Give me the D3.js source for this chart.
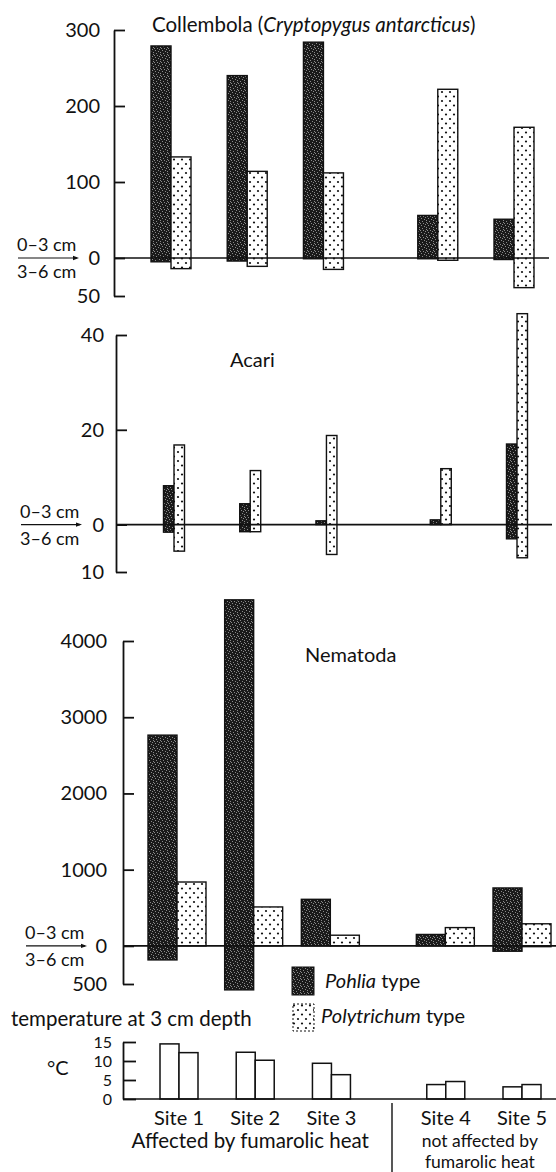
<!DOCTYPE html>
<html><head><meta charset="utf-8">
<script src="https://cdn.jsdelivr.net/npm/d3@7"></script>
<style>
body{margin:0;background:#fff}
svg{display:block}
text{font-family:Lato,"Open Sans",sans-serif;fill:#111}
</style>
</head><body>
<svg id="c" width="556" height="1172"></svg>
<script>
// ---------- data ----------
const sites = ["Site 1","Site 2","Site 3","Site 4","Site 5"];
const siteGroup = [0,0,0,1,1];            // 0 = affected by fumarolic heat, 1 = not affected
const groupLabels = ["Affected by fumarolic heat", ["not affected by","fumarolic heat"]];
const depthLabels = ["0–3 cm","3–6 cm"];
const mossTypes = ["Pohlia","Polytrichum"];

// Collembola (Cryptopygus antarcticus)
const collTicks = [300,200,100,0,-50];
const collPohlia03 = [279,240,284,56,51];
const collPohlia36 = [5,4,1,1,2];
const collPoly03   = [133,114,112,222,172];
const collPoly36   = [14,11,15,3,39];

// Acari
const acariTicks = [40,20,0,-10];
const acariPohlia03 = [8.2,4.4,0.8,1.0,17];
const acariPohlia36 = [1.6,1.5,0,0,3];
const acariPoly03   = [16.8,11.4,18.8,11.8,44.5];
const acariPoly36   = [5.6,1.5,6.3,0,7];

// Nematoda
const nemaTicks = [4000,3000,2000,1000,0,-500];
const nemaPohlia03 = [2765,4540,611,150,760];
const nemaPohlia36 = [184,577,0,0,70];
const nemaPoly03   = [838,511,140,240,290];
const nemaPoly36   = [0,0,0,0,10];

// temperature at 3 cm depth (°C)
const tempTicks = [15,10,5,0];
const tempPohlia = [14.5,12.3,9.4,3.8,3.2];
const tempPoly   = [12.2,10.2,6.4,4.6,3.8];

// ---------- drawing ----------
const FS = 20;
const svg = d3.select("#c");
const defs = svg.append("defs");

// dark stipple pattern
const pd = defs.append("pattern").attr("id","dark").attr("patternUnits","userSpaceOnUse")
  .attr("width",7).attr("height",7);
pd.append("rect").attr("width",7).attr("height",7).attr("fill","#1a1a1a");
[[1,1],[4,2],[2,4],[6,5],[5,0],[0,6],[3,6],[6,3]].forEach(([a,b])=>
  pd.append("rect").attr("x",a).attr("y",b).attr("width",1).attr("height",1).attr("fill","#8a8a8a"));
// dotted pattern
const pp = defs.append("pattern").attr("id","dots").attr("patternUnits","userSpaceOnUse")
  .attr("width",8).attr("height",9);
pp.append("rect").attr("width",8).attr("height",9).attr("fill","#fff");
pp.append("circle").attr("cx",2).attr("cy",2).attr("r",1.1).attr("fill","#111");
pp.append("circle").attr("cx",6).attr("cy",6.5).attr("r",1.1).attr("fill","#111");

const sitePos = sites.map((s,i)=> i + siteGroup[i]*0.5);

function depthLegend(x, y0){
  svg.append("text").attr("x",x).attr("y",y0-7).attr("font-size",18).text(depthLabels[0]);
  svg.append("line").attr("x1",x+1).attr("x2",x+60).attr("y1",y0).attr("y2",y0)
    .attr("stroke","#111").attr("stroke-width",1.2);
  svg.append("path").attr("d",`M${x+62},${y0} l-6,-2.2 v4.4z`).attr("fill","#111");
  svg.append("text").attr("x",x).attr("y",y0+20).attr("font-size",18).text(depthLabels[1]);
}

function panel(o){
  const y = d3.scaleLinear().domain(o.domain).range(o.range);
  const x = d3.scaleLinear().domain([0,4.5]).range(o.xr);
  const g = svg.append("g");
  const ax = d3.axisLeft(y).tickValues(o.ticks).tickSizeInner(-11).tickSizeOuter(0)
    .tickPadding(o.pad).tickFormat(d=>Math.abs(d));
  const ag = g.append("g").attr("transform",`translate(${o.axisX},0)`).call(ax);
  ag.selectAll("path,line").attr("stroke","#111").attr("stroke-width",1.8);
  ag.selectAll("text").attr("font-size",FS).attr("font-family","Lato, sans-serif").attr("fill","#111");
  const series = [
    {up:o.p03, dn:o.p36, fill:"url(#dark)", off:-o.bw},
    {up:o.q03, dn:o.q36, fill:"url(#dots)", off:0}
  ];
  series.forEach(s=>{
    g.selectAll(null).data(sites).enter().append("rect")
      .attr("x",(d,i)=>x(sitePos[i])+s.off)
      .attr("width",o.bw)
      .attr("y",(d,i)=>y(s.up[i]))
      .attr("height",(d,i)=>y(-s.dn[i])-y(s.up[i]))
      .attr("fill",s.fill).attr("stroke","#111").attr("stroke-width",1.4);
  });
  g.append("line").attr("x1",o.axisX).attr("x2",o.lineEnd).attr("y1",y(0)).attr("y2",y(0))
    .attr("stroke","#111").attr("stroke-width",1.6);
  depthLegend(o.legX, y(0));
  return {x,y};
}

// Collembola
panel({domain:[-50,300], range:[296,30], xr:[171,514], axisX:114, pad:14, ticks:collTicks, bw:20,
  p03:collPohlia03, p36:collPohlia36, q03:collPoly03, q36:collPoly36, lineEnd:549, legX:17});
const t1 = svg.append("text").attr("x",152).attr("y",32).attr("font-size",20.5);
t1.append("tspan").text("Collembola (");
t1.append("tspan").attr("font-style","italic").text("Cryptopygus antarcticus");
t1.append("tspan").text(")");

// Acari
panel({domain:[-10,40], range:[572,335], xr:[174,517], axisX:116, pad:12, ticks:acariTicks, bw:10.5,
  p03:acariPohlia03, p36:acariPohlia36, q03:acariPoly03, q36:acariPoly36, lineEnd:552, legX:20});
svg.append("text").attr("x",230).attr("y",367).attr("font-size",20).text("Acari");

// Nematoda
panel({domain:[-500,4000], range:[984,641], xr:[177,522], axisX:123, pad:16, ticks:nemaTicks, bw:29,
  p03:nemaPohlia03, p36:nemaPohlia36, q03:nemaPoly03, q36:nemaPoly36, lineEnd:556, legX:25});
svg.append("text").attr("x",305).attr("y",662).attr("font-size",20).text("Nematoda");

// legend
svg.append("rect").attr("x",292).attr("y",967).attr("width",22).attr("height",28)
  .attr("fill","url(#dark)").attr("stroke","#111");
const l1 = svg.append("text").attr("x",325).attr("y",988).attr("font-size",20);
l1.append("tspan").attr("font-style","italic").text(mossTypes[0]);
l1.append("tspan").text(" type");
svg.append("rect").attr("x",293).attr("y",1004).attr("width",21).attr("height",27)
  .attr("fill","url(#dots)").attr("stroke","#111").attr("stroke-dasharray","2,2");
const l2 = svg.append("text").attr("x",321).attr("y",1023).attr("font-size",20);
l2.append("tspan").attr("font-style","italic").text(mossTypes[1]);
l2.append("tspan").text(" type");

// temperature panel
svg.append("text").attr("x",11).attr("y",1026).attr("font-size",20.5).text("temperature at 3 cm depth");
svg.append("text").attr("x",47).attr("y",1075).attr("font-size",20).text("°C");
const ty = d3.scaleLinear().domain([0,15]).range([1099,1042]);
const tx = d3.scaleLinear().domain([0,4.5]).range([179,522]);
const tax = d3.axisLeft(ty).tickValues(tempTicks).tickSizeInner(-13).tickSizeOuter(0).tickPadding(11);
const tag = svg.append("g").attr("transform","translate(123,0)").call(tax);
tag.selectAll("path,line").attr("stroke","#111").attr("stroke-width",1.8);
tag.selectAll("text").attr("font-size",16).attr("font-family","Lato, sans-serif").attr("fill","#111");
[[tempPohlia,-19],[tempPoly,0]].forEach(([vals,off])=>{
  svg.selectAll(null).data(sites).enter().append("rect")
    .attr("x",(d,i)=>tx(sitePos[i])+off).attr("width",19)
    .attr("y",(d,i)=>ty(vals[i])).attr("height",(d,i)=>ty(0)-ty(vals[i]))
    .attr("fill","#fff").attr("stroke","#111").attr("stroke-width",1.5);
});
svg.append("line").attr("x1",123).attr("x2",556).attr("y1",ty(0)).attr("y2",ty(0))
  .attr("stroke","#111").attr("stroke-width",1.6);
svg.selectAll(null).data(sites).enter().append("text")
  .attr("x",(d,i)=>tx(sitePos[i])).attr("y",1125).attr("text-anchor","middle")
  .attr("font-size",FS).text(d=>d);
svg.append("text").attr("x",tx(1)-5).attr("y",1148).attr("text-anchor","middle")
  .attr("font-size",20.5).text(groupLabels[0]);
groupLabels[1].forEach((t,k)=>
  svg.append("text").attr("x",tx(4)-4).attr("y",1147+k*21).attr("text-anchor","middle")
    .attr("font-size",17.5).text(t));
svg.append("line").attr("x1",392).attr("x2",392).attr("y1",1103).attr("y2",1172)
  .attr("stroke","#111").attr("stroke-width",1.4);
</script>
</body></html>
